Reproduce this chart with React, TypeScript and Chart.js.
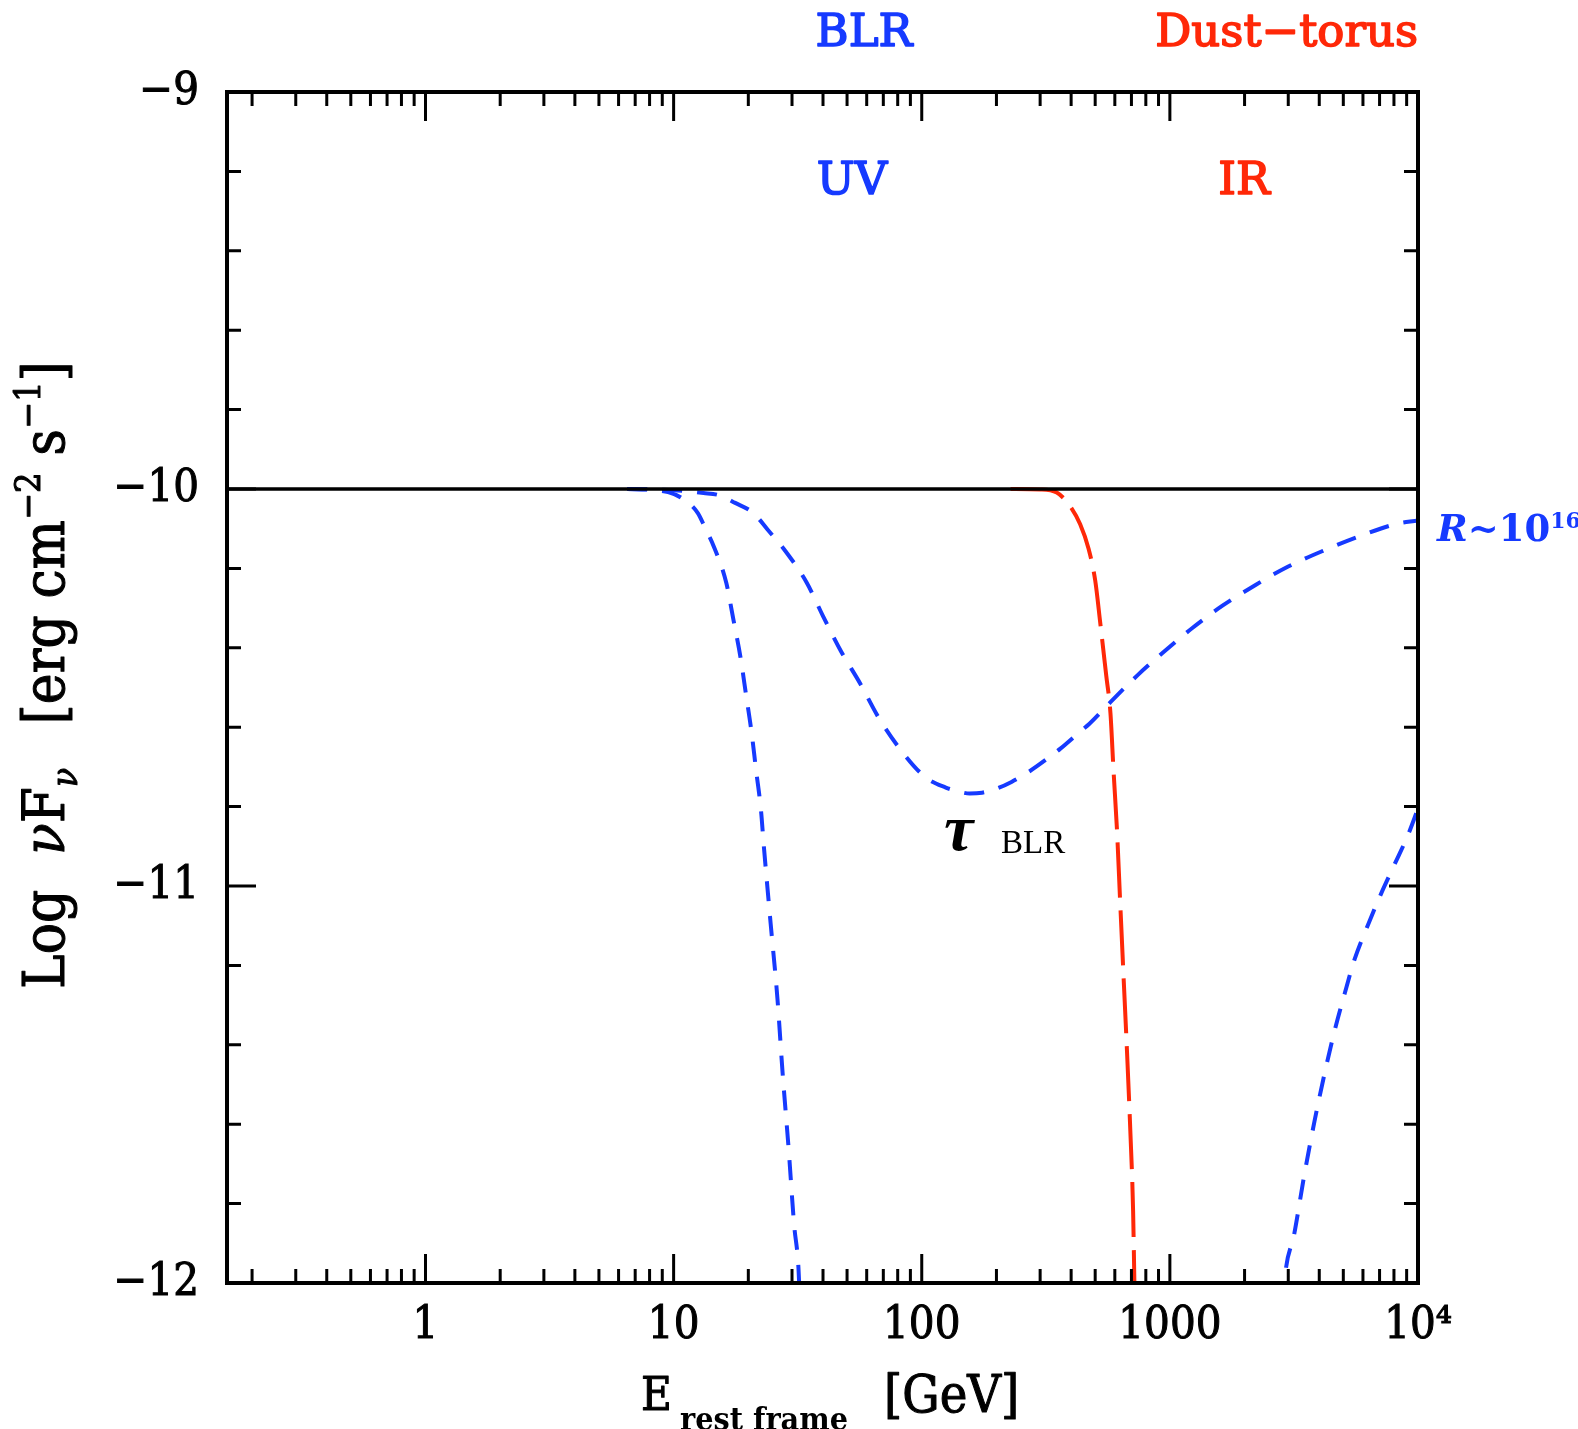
import React, { useEffect, useRef } from 'react';
import { Chart, registerables } from 'chart.js';

Chart.register(...registerables);

// ---------- data ----------
const X_MIN = Math.pow(10, -0.8);
const X_MAX = 1e4;
const Y_MIN = -12;
const Y_MAX = -9;

const xTickValues = [1, 10, 100, 1000, 10000];
const xTickLabels = ['1', '10', '100', '1000', '10⁴'];
const yTickValues = [-12, -11, -10, -9];
const yTickLabels = ['−12', '−11', '−10', '−9'];

// intrinsic (unabsorbed) spectrum
const intrinsicE = [X_MIN, X_MAX];
const intrinsicV = [-10, -10];

// BLR absorption, steep curve (UV)
const blrSteepE = [6.5, 8, 9.5, 10.8, 12.5, 13.4, 14.5, 16.3, 17.4, 18.6, 19.6, 20.6, 21.5, 22.5, 23.1, 24.6, 26.2, 27.5, 29.1, 30.6, 31.8, 32.3];
const blrSteepV = [-10, -10.002, -10.008, -10.023, -10.06, -10.098, -10.144, -10.236, -10.328, -10.424, -10.52, -10.612, -10.709, -10.81, -10.9, -11.094, -11.283, -11.472, -11.665, -11.854, -11.955, -12.05];

// BLR absorption, tau_BLR broad dip
const blrBroadE = [6.5, 10, 13.2, 15.3, 17.7, 20.9, 23.9, 28.2, 34.4, 40, 47.2, 56.6, 66.9, 81.5, 103, 125, 139, 156, 175, 200, 230, 269, 334, 362, 435, 473, 576, 738, 946, 1232, 1629, 2223, 2985, 4134, 5815, 8054, 10000];
const blrBroadV = [-10, -10.003, -10.01, -10.016, -10.035, -10.06, -10.102, -10.156, -10.236, -10.32, -10.408, -10.491, -10.575, -10.654, -10.725, -10.752, -10.761, -10.767, -10.765, -10.755, -10.738, -10.713, -10.671, -10.654, -10.611, -10.592, -10.537, -10.47, -10.41, -10.35, -10.294, -10.241, -10.196, -10.156, -10.119, -10.089, -10.079];

// Dust-torus absorption (IR)
const torusE = [228, 300, 350, 396, 435, 470, 500, 524, 554, 576, 593, 612, 631, 651, 672, 693, 711, 719, 722];
const torusV = [-10, -10.001, -10.009, -10.043, -10.089, -10.15, -10.23, -10.337, -10.47, -10.564, -10.711, -10.858, -11.045, -11.232, -11.419, -11.619, -11.82, -11.99, -12.05];

// BLR, R~10^16 curve (rising at high energy)
const blrRightE = [2860, 2892, 3177, 3486, 3826, 4200, 4606, 5058, 5550, 6285, 7116, 8054, 9120, 10000];
const blrRightV = [-12.05, -12, -11.874, -11.726, -11.593, -11.473, -11.366, -11.272, -11.185, -11.098, -11.018, -10.945, -10.871, -10.805];

// ---------- styles ----------
const BLUE = 'rgb(22,58,255)';
const RED = 'rgb(255,40,8)';
const SERIF = "'DejaVu Serif Condensed', 'DejaVu Serif', serif";
const SERIF_W = "'DejaVu Serif', serif";
const TIMES = "'Liberation Serif', serif";

type Piece = { t: string; f?: string; dy?: number; gap?: number };

function drawPieces(ctx: CanvasRenderingContext2D, pieces: Piece[], x: number, y: number, draw: boolean, stroke = 0) {
  let cx = x;
  for (const p of pieces) {
    if (p.gap) { cx += p.gap; continue; }
    ctx.font = p.f as string;
    if (draw) {
      ctx.fillText(p.t, cx, y + (p.dy || 0));
      if (stroke > 0) { ctx.lineWidth = stroke; ctx.strokeText(p.t, cx, y + (p.dy || 0)); }
    }
    cx += ctx.measureText(p.t).width;
  }
  return cx - x;
}

function heavyText(ctx: CanvasRenderingContext2D, t: string, x: number, y: number, w: number) {
  ctx.fillText(t, x, y);
  ctx.lineWidth = w;
  ctx.strokeText(t, x, y);
}

const overlayPlugin = {
  id: 'overlay',
  afterDraw(chart: any) {
    const { ctx, chartArea: a, scales } = chart;
    const xs = scales.x;
    const ys = scales.y;
    const MAJOR = 29;
    const MINOR = 14;
    ctx.save();
    ctx.strokeStyle = '#000';
    ctx.lineCap = 'butt';
    // ticks (inward)
    ctx.lineWidth = 3;
    ctx.beginPath();
    for (let d = -1; d <= 3; d++) {
      for (let k = 1; k <= 9; k++) {
        const v = k * Math.pow(10, d);
        if (v < X_MIN * 0.999 || v > X_MAX * 1.001) continue;
        const px = xs.getPixelForValue(v);
        const len = k === 1 ? MAJOR : MINOR;
        ctx.moveTo(px, a.bottom); ctx.lineTo(px, a.bottom - len);
        ctx.moveTo(px, a.top); ctx.lineTo(px, a.top + len);
      }
    }
    for (let i = 0; i <= 15; i++) {
      const v = Y_MIN + i * 0.2;
      const py = ys.getPixelForValue(v);
      const len = i % 5 === 0 ? MAJOR : MINOR;
      ctx.moveTo(a.left, py); ctx.lineTo(a.left + len, py);
      ctx.moveTo(a.right, py); ctx.lineTo(a.right - len, py);
    }
    ctx.stroke();
    // frame
    ctx.lineWidth = 4;
    ctx.lineJoin = 'miter';
    ctx.strokeRect(a.left, a.top, a.right - a.left, a.bottom - a.top);

    // top labels
    ctx.lineJoin = 'round';
    ctx.textBaseline = 'alphabetic';
    ctx.font = `45px ${SERIF_W}`;
    ctx.textAlign = 'center';
    ctx.fillStyle = BLUE;
    ctx.strokeStyle = BLUE;
    heavyText(ctx, 'BLR', 864, 46, 1.6);
    heavyText(ctx, 'UV', 852, 194, 1.6);
    ctx.fillStyle = RED;
    ctx.strokeStyle = RED;
    heavyText(ctx, 'IR', 1244, 194, 1.6);
    ctx.textAlign = 'right';
    heavyText(ctx, 'Dust−torus', 1418, 46, 1.6);

    // R~10^16
    ctx.textAlign = 'left';
    ctx.fillStyle = BLUE;
    ctx.strokeStyle = BLUE;
    drawPieces(ctx, [
      { t: 'R', f: `italic bold 37px ${SERIF_W}` },
      { t: '~10', f: `bold 37px ${SERIF_W}` },
      { t: '16', f: `bold 22px ${SERIF_W}`, dy: -13 },
    ], 1437, 541, true);

    // tau BLR
    ctx.fillStyle = '#000';
    ctx.strokeStyle = '#000';
    ctx.font = `bold italic 66px ${TIMES}`;
    ctx.fillText('τ', 944, 850);
    ctx.font = `33px ${TIMES}`;
    ctx.fillText('BLR', 1001, 853);

    // x axis title
    drawPieces(ctx, [{ t: 'E', f: `47px ${SERIF}` }], 641, 1410, true, 1);
    drawPieces(ctx, [{ t: 'rest frame', f: `bold 32px ${SERIF}` }], 680, 1430, true);
    drawPieces(ctx, [{ t: '[GeV]', f: `52px ${SERIF}` }], 884, 1412, true, 1);

    // y axis title (rotated)
    const mkY = (S: number): Piece[] => [
      { t: 'Log', f: `${S}px ${SERIF}` },
      { t: '', gap: S * 0.6 },
      { t: 'ν', f: `italic ${S}px ${SERIF}` },
      { t: 'F', f: `${S}px ${SERIF}` },
      { t: 'ν', f: `italic ${S * 0.6}px ${SERIF}`, dy: S * 0.22 },
      { t: '', gap: S * 0.75 },
      { t: '[erg cm', f: `${S}px ${SERIF}` },
      { t: '−2', f: `${S * 0.62}px ${SERIF}`, dy: -S * 0.42 },
      { t: ' s', f: `${S}px ${SERIF}` },
      { t: '−1', f: `${S * 0.62}px ${SERIF}`, dy: -S * 0.42 },
      { t: ']', f: `${S}px ${SERIF}` },
    ];
    const targetLen = 989 - 361;
    const w0 = drawPieces(ctx, mkY(50), 0, 0, false);
    const S = 50 * targetLen / w0;
    ctx.translate(64, 989);
    ctx.rotate(-Math.PI / 2);
    drawPieces(ctx, mkY(S), 0, 0, true, 1);
    ctx.restore();
  },
};

const mk = (E: number[], V: number[]) => E.map((e, i) => ({ x: e, y: V[i] }));

export default function App() {
  const ref = useRef<HTMLCanvasElement | null>(null);
  useEffect(() => {
    if (!ref.current) return;
    const lineBase = { showLine: true, pointRadius: 0, borderWidth: 4, fill: false, cubicInterpolationMode: 'monotone' as const };
    const chart = new Chart(ref.current, {
      type: 'scatter',
      data: {
        datasets: [
          { ...lineBase, data: mk(intrinsicE, intrinsicV), borderColor: '#000', borderWidth: 3.6 },
          { ...lineBase, data: mk(blrBroadE, blrBroadV), borderColor: BLUE, borderDash: [20, 15] },
          { ...lineBase, data: mk(blrSteepE, blrSteepV), borderColor: BLUE, borderDash: [20, 15] },
          { ...lineBase, data: mk(torusE, torusV), borderColor: RED, borderDash: [55, 13] },
          { ...lineBase, data: mk(blrRightE, blrRightV), borderColor: BLUE, borderDash: [20, 15] },
        ],
      },
      options: {
        animation: false,
        responsive: false,
        events: [],
        layout: { padding: { left: 0, top: 92, right: 160, bottom: 0 } },
        plugins: { legend: { display: false }, tooltip: { enabled: false } },
        scales: {
          x: {
            type: 'logarithmic',
            min: X_MIN,
            max: X_MAX,
            bounds: 'data',
            grid: { display: false, drawTicks: false },
            border: { display: false },
            ticks: {
              autoSkip: false,
              maxRotation: 0,
              color: '#000',
              textStrokeColor: '#000',
              textStrokeWidth: 1,
              padding: 16,
              font: { family: SERIF, size: 45 },
              callback: (v: any) => {
                const i = xTickValues.indexOf(Number(v));
                return i >= 0 ? xTickLabels[i] : '';
              },
            },
            afterBuildTicks: (s: any) => { s.ticks = xTickValues.map((v) => ({ value: v })); },
            afterFit: (s: any) => { s.height = 146; },
          },
          y: {
            type: 'linear',
            min: Y_MIN,
            max: Y_MAX,
            grid: { display: false, drawTicks: false },
            border: { display: false },
            ticks: {
              autoSkip: false,
              color: '#000',
              textStrokeColor: '#000',
              textStrokeWidth: 1,
              padding: 28,
              font: { family: SERIF, size: 45 },
              callback: (v: any) => {
                const i = yTickValues.indexOf(Number(v));
                return i >= 0 ? yTickLabels[i] : '';
              },
            },
            afterBuildTicks: (s: any) => { s.ticks = yTickValues.map((v) => ({ value: v })); },
            afterFit: (s: any) => { s.width = 227; },
          },
        },
      } as any,
      plugins: [overlayPlugin],
    });
    return () => chart.destroy();
  }, []);
  return (
    <div style={{ position: 'absolute', left: 0, top: 0, width: 1578, height: 1429, background: '#fff' }}>
      <canvas ref={ref} width={1578} height={1429} style={{ display: 'block' }} />
    </div>
  );
}
